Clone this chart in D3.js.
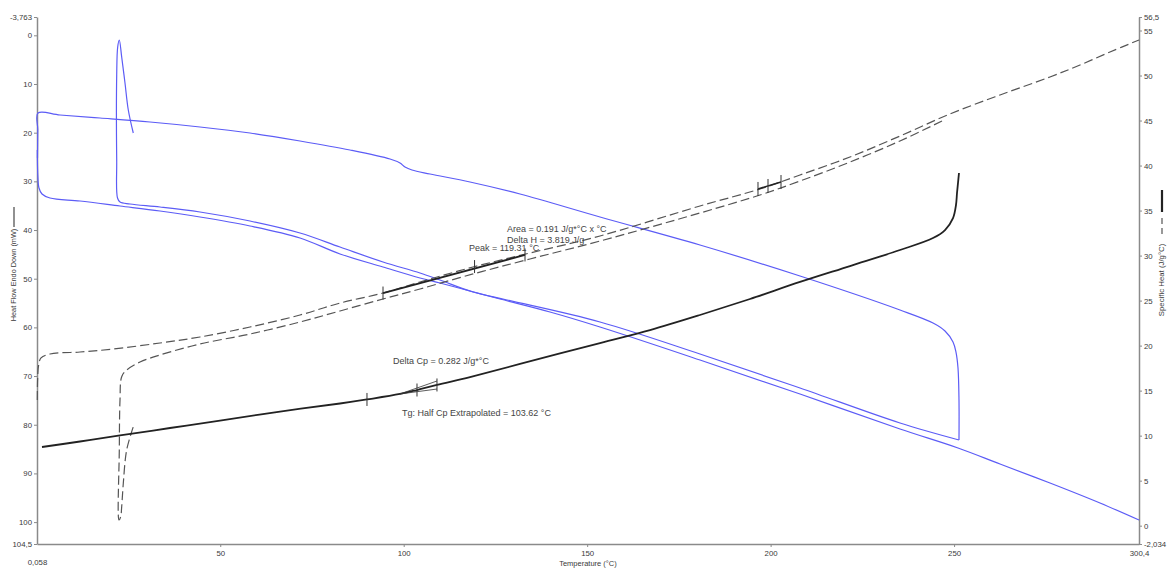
<!DOCTYPE html>
<html>
<head>
<meta charset="utf-8">
<script src="https://cdn.jsdelivr.net/npm/d3@7"></script>
<style>
  html, body { margin: 0; padding: 0; background: #fff; }
  svg { display: block; font-family: "Liberation Sans", Arial, sans-serif; }
</style>
</head>
<body>
<svg id="chart" width="1172" height="568"></svg>
<script>
// ---------- DSC run: heat flow (left axis, mW) ----------
// first heating, 0 -> 250 °C
const hfHeat1Temp = [0.19, 0.28, 0.33, 6.33, 17.23, 30.85, 44.48, 58.11, 71.74, 85.36, 96.27, 98.99, 100.35, 102.26, 107.17, 118.07, 131.70, 153.50, 180.75, 208.01, 235.26, 244.26, 247.53, 249.71, 250.52, 251.07, 251.34, 251.34];
const hfHeat1 = [25.20, 19.45, 15.96, 16.37, 16.99, 17.81, 18.83, 20.07, 21.71, 23.56, 25.41, 26.23, 27.05, 27.67, 28.49, 30.13, 32.60, 37.32, 43.08, 49.45, 56.43, 59.10, 60.74, 63.00, 65.06, 68.35, 74.92, 83.13];
// cooling, 250 -> room temperature
const hfCoolTemp = [251.34, 235.26, 208.01, 180.75, 153.50, 128.15, 118.89, 109.89, 104.44, 94.36, 82.64, 71.74, 58.11, 44.48, 33.58, 25.40, 22.68, 22.00, 21.78, 21.78, 22.05, 22.49, 23.14, 24.04, 24.94, 26.30];
const hfCool = [83.13, 79.64, 72.45, 65.47, 58.89, 54.37, 52.73, 50.27, 48.83, 46.57, 43.49, 40.61, 38.15, 36.30, 35.27, 34.65, 34.24, 33.42, 25.61, 8.15, 2.40, 0.96, 4.45, 9.80, 15.34, 20.07];
// second heating, 0 -> 300 °C
const hfHeat2Temp = [0.14, 0.28, 0.60, 1.42, 3.60, 11.78, 22.68, 33.58, 44.48, 58.11, 71.74, 82.64, 94.36, 104.44, 109.89, 118.07, 126.25, 139.87, 153.50, 180.75, 208.01, 235.26, 251.07, 262.52, 276.14, 289.77, 300.40];
const hfHeat2 = [23.56, 28.69, 31.37, 32.60, 33.42, 34.04, 35.06, 36.09, 37.32, 39.17, 41.64, 44.92, 47.60, 49.85, 50.88, 52.53, 54.17, 56.84, 59.92, 66.70, 73.69, 80.88, 84.78, 88.07, 91.97, 96.08, 99.57];

// ---------- specific heat (right axis, J/g°C) ----------
const cpHeat1Temp = [1.42, 11.78, 22.68, 36.31, 49.93, 66.29, 82.64, 89.99, 98.99, 103.62, 109.07, 118.07, 131.70, 153.50, 167.13, 180.75, 194.38, 208.01, 221.63, 235.26, 244.26, 247.53, 249.71, 250.52, 250.80, 251.07, 251.34];
const cpHeat1 = [8.74, 9.35, 10.02, 10.85, 11.68, 12.68, 13.57, 14.02, 14.63, 15.07, 15.63, 16.51, 17.96, 20.29, 21.73, 23.40, 25.18, 27.07, 28.84, 30.62, 31.95, 32.84, 34.17, 35.62, 36.95, 38.06, 39.17];
const cpHeat2Temp = [0.14, 0.22, 0.47, 1.15, 3.60, 11.78, 20.77, 33.58, 44.48, 58.11, 71.74, 82.64, 94.36, 104.44, 118.89, 134.42, 153.50, 180.75, 197.10, 208.01, 221.63, 235.26, 248.89, 262.52, 276.14, 284.32, 292.49, 300.40];
const cpHeat2 = [13.96, 16.18, 17.74, 18.63, 19.07, 19.29, 19.62, 20.29, 20.96, 22.07, 23.40, 24.73, 25.84, 27.07, 28.73, 30.29, 32.18, 35.51, 37.40, 38.95, 40.95, 43.28, 45.73, 47.84, 49.84, 51.17, 52.61, 53.95];
const cpCoolTemp = [246.71, 235.26, 221.63, 208.01, 197.10, 180.75, 153.50, 134.42, 118.89, 104.44, 94.36, 82.64, 71.74, 58.11, 44.48, 33.58, 28.13, 24.50, 23.14, 22.68, 22.49, 22.41, 22.87, 23.14, 23.58, 24.50, 26.30];
const cpCool = [44.95, 42.73, 40.39, 38.28, 36.73, 34.73, 31.62, 29.62, 27.96, 26.29, 25.18, 23.85, 22.62, 21.29, 20.18, 18.96, 18.18, 17.29, 16.55, 13.96, 8.41, 0.63, 1.00, 2.11, 4.71, 8.41, 10.99];

// ---------- analysis markers ----------
const peakBaseTemp = [94.36, 133.06];
const peakBaseCp = [25.84, 30.07];
const peakTickTemp = [94.36, 119.31, 133.06];
const peakTickCp = [25.84, 28.78, 30.07];
const tgTickTemp = [89.99, 103.62, 109.07];
const tgTickCp = [14.02, 15.07, 15.63];
const tgTangentTemp = [98.99, 109.07];
const tgTangentUpperCp = [14.63, 16.07];
const tgTangentLowerCp = [14.63, 15.18];
const cpTickTemp = [196.56, 199.29, 202.83];
const cpTickCp = [37.40, 37.73, 38.17];

// ---------- axes ----------
const tempDomain = [0.058, 300.4];
const hfDomain = [-3.763, 104.5];
const cpDomain = [-2.034, 56.5];
const tempTicks = [0.058, 50, 100, 150, 200, 250, 300.4];
const hfTicks = [-3.763, 0, 10, 20, 30, 40, 50, 60, 70, 80, 90, 100, 104.5];
const cpTicks = [-2.034, 0, 5, 10, 15, 20, 25, 30, 35, 40, 45, 50, 55, 56.5];

const annotations = [
  { text: "Area = 0.191 J/g*°C x °C", x: 507, y: 232 },
  { text: "Delta H = 3.819 J/g", x: 507, y: 243 },
  { text: "Peak = 119.31 °C", x: 469, y: 251 },
  { text: "Delta Cp = 0.282 J/g*°C", x: 393, y: 364 },
  { text: "Tg: Half Cp Extrapolated = 103.62 °C", x: 402, y: 416 }
];

const svg = d3.select("#chart");
const plotLeft = 37, plotRight = 1139, plotTop = 17, plotBottom = 544;

const x = d3.scaleLinear().domain(tempDomain).range([plotLeft, plotRight]);
const yHF = d3.scaleLinear().domain(hfDomain).range([plotTop, plotBottom]);
const yCp = d3.scaleLinear().domain(cpDomain).range([plotBottom, plotTop]);

const comma = v => String(v).replace(".", ",");
const textColor = "#3a3a3a";
const axisColor = "#8a8a8a";

function styleAxis(g) {
  g.select(".domain").attr("stroke", axisColor).attr("stroke-width", 1.5);
  g.selectAll(".tick line").attr("stroke", axisColor).attr("stroke-width", 1);
  g.selectAll(".tick text").attr("fill", textColor).style("font-size", "7.8px")
    .style("font-family", '"Liberation Sans", Arial, sans-serif');
}

// left axis
const gL = svg.append("g").attr("transform", `translate(${plotLeft},0)`)
  .call(d3.axisLeft(yHF).tickValues(hfTicks).tickFormat(comma).tickSize(3).tickSizeOuter(0).tickPadding(2));
styleAxis(gL);

// right axis
const gR = svg.append("g").attr("transform", `translate(${plotRight},0)`)
  .call(d3.axisRight(yCp).tickValues(cpTicks).tickFormat(comma).tickSize(3).tickSizeOuter(0).tickPadding(2));
styleAxis(gR);

// bottom axis
const gB = svg.append("g").attr("transform", `translate(0,${plotBottom})`)
  .call(d3.axisBottom(x).tickValues(tempTicks).tickFormat(comma).tickSize(3).tickSizeOuter(0).tickPadding(3));
styleAxis(gB);
gB.selectAll(".tick").filter(d => d === tempTicks[0]).select("line").remove();
gB.selectAll(".tick").filter(d => d === tempTicks[tempTicks.length - 1]).select("line").remove();
gB.selectAll(".tick text").filter(d => d === tempTicks[0]).attr("y", 15);

// axis titles
svg.append("text").attr("x", (plotLeft + plotRight) / 2).attr("y", 566)
  .attr("text-anchor", "middle").attr("fill", textColor).style("font-size", "7.5px")
  .text("Temperature (°C)");

svg.append("text").attr("transform", "translate(16,275) rotate(-90)")
  .attr("text-anchor", "middle").attr("fill", textColor).style("font-size", "7.3px")
  .text("Heat Flow Endo Down (mW)");
svg.append("line").attr("x1", 14).attr("x2", 14).attr("y1", 207).attr("y2", 227)
  .attr("stroke", "#555").attr("stroke-width", 1.3);

svg.append("text").attr("transform", "translate(1164,280) rotate(-90)")
  .attr("text-anchor", "middle").attr("fill", textColor).style("font-size", "7.8px")
  .text("Specific Heat (J/g°C)");
svg.append("line").attr("x1", 1162).attr("x2", 1162).attr("y1", 190).attr("y2", 212)
  .attr("stroke", "#222").attr("stroke-width", 2.2);
svg.append("line").attr("x1", 1162).attr("x2", 1162).attr("y1", 218).attr("y2", 238)
  .attr("stroke", "#555").attr("stroke-width", 1.2).attr("stroke-dasharray", "6,4");

// curves
const pts = (t, v) => t.map((d, i) => [d, v[i]]);
const hfLine = d3.line().x(d => x(d[0])).y(d => yHF(d[1])).curve(d3.curveCatmullRom.alpha(0.5));
const cpLine = d3.line().x(d => x(d[0])).y(d => yCp(d[1])).curve(d3.curveCatmullRom.alpha(0.5));

const blue = "#5c5cf6";
[[hfHeat1Temp, hfHeat1], [hfCoolTemp, hfCool], [hfHeat2Temp, hfHeat2]].forEach(([t, v]) => {
  svg.append("path").attr("d", hfLine(pts(t, v)))
    .attr("fill", "none").attr("stroke", blue).attr("stroke-width", 1.2);
});

[[cpHeat2Temp, cpHeat2], [cpCoolTemp, cpCool]].forEach(([t, v]) => {
  svg.append("path").attr("d", cpLine(pts(t, v)))
    .attr("fill", "none").attr("stroke", "#555").attr("stroke-width", 1.2)
    .attr("stroke-dasharray", "9,4");
});

svg.append("path").attr("d", cpLine(pts(cpHeat1Temp, cpHeat1)))
  .attr("fill", "none").attr("stroke", "#222").attr("stroke-width", 1.8);

// analysis marks
const straight = d3.line().x(d => x(d[0])).y(d => yCp(d[1]));
svg.append("path").attr("d", straight(pts(peakBaseTemp, peakBaseCp)))
  .attr("fill", "none").attr("stroke", "#222").attr("stroke-width", 1.8);
svg.append("path").attr("d", straight(pts([cpTickTemp[0], cpTickTemp[2]], [cpTickCp[0], cpTickCp[2]])))
  .attr("fill", "none").attr("stroke", "#222").attr("stroke-width", 1.5);
[tgTangentUpperCp, tgTangentLowerCp].forEach(c => {
  svg.append("path").attr("d", straight(pts(tgTangentTemp, c)))
    .attr("fill", "none").attr("stroke", "#333").attr("stroke-width", 0.8);
});

function ticks(t, c, half) {
  svg.append("g").selectAll("line").data(pts(t, c)).join("line")
    .attr("x1", d => x(d[0])).attr("x2", d => x(d[0]))
    .attr("y1", d => yCp(d[1]) - half).attr("y2", d => yCp(d[1]) + half)
    .attr("stroke", "#333").attr("stroke-width", 1);
}
ticks(peakTickTemp, peakTickCp, 6.5);
ticks(tgTickTemp, tgTickCp, 6.5);
ticks(cpTickTemp, cpTickCp, 7);

// annotation texts
svg.append("g").selectAll("text").data(annotations).join("text")
  .attr("x", d => d.x).attr("y", d => d.y)
  .attr("fill", "#444").style("font-size", "9px")
  .text(d => d.text);
</script>
</body>
</html>
